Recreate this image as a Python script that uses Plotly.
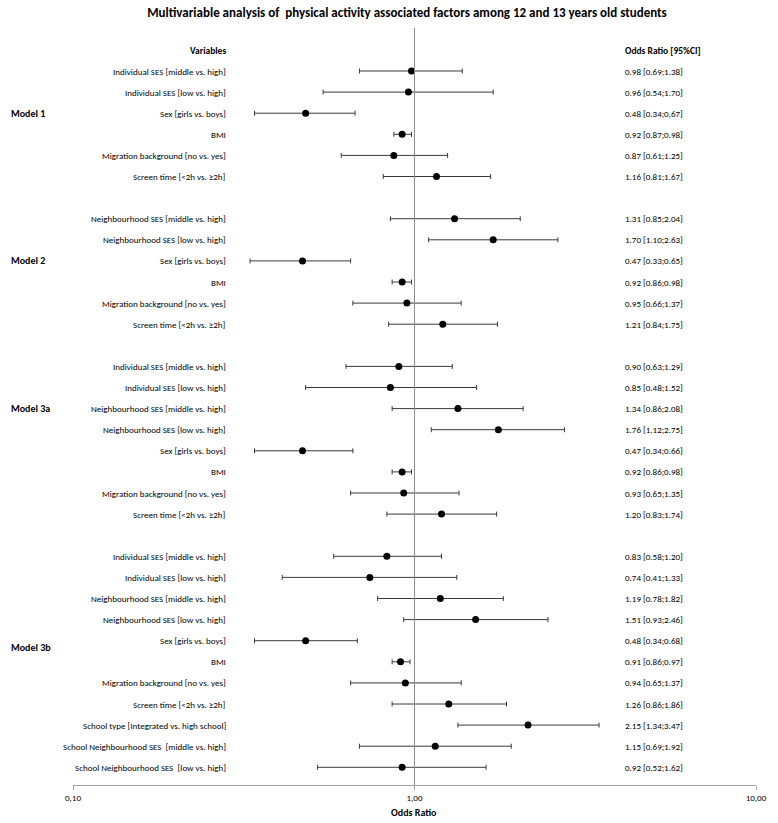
import plotly.graph_objects as go

FONT = "Carlito, Calibri, Lato, sans-serif"

title_text = "Multivariable analysis of  physical activity associated factors among 12 and 13 years old students"

model_names = ["Model 1", "Model 2", "Model 3a", "Model 3b"]

model1_vars = ["Individual SES [middle vs. high]", "Individual SES [low vs. high]",
               "Sex [girls vs. boys]", "BMI", "Migration background [no vs. yes]",
               "Screen time [<2h vs. \u22652h]"]
model1_or = [0.98, 0.96, 0.48, 0.92, 0.87, 1.16]
model1_lo = [0.69, 0.54, 0.34, 0.87, 0.61, 0.81]
model1_hi = [1.38, 1.70, 0.67, 0.98, 1.25, 1.67]
model1_txt = ["0.98 [0.69;1.38]", "0.96 [0.54;1.70]", "0.48 [0.34;0,67]",
              "0.92 [0.87;0.98]", "0.87 [0.61;1.25]", "1.16 [0.81;1.67]"]

model2_vars = ["Neighbourhood SES [middle vs. high]", "Neighbourhood SES [low vs. high]",
               "Sex [girls vs. boys]", "BMI", "Migration background [no vs. yes]",
               "Screen time [<2h vs. \u22652h]"]
model2_or = [1.31, 1.70, 0.47, 0.92, 0.95, 1.21]
model2_lo = [0.85, 1.10, 0.33, 0.86, 0.66, 0.84]
model2_hi = [2.04, 2.63, 0.65, 0.98, 1.37, 1.75]
model2_txt = ["1.31 [0.85;2.04]", "1.70 [1.10;2.63]", "0.47 [0.33;0.65]",
              "0.92 [0.86;0.98]", "0.95 [0.66;1.37]", "1.21 [0.84;1.75]"]

model3a_vars = ["Individual SES [middle vs. high]", "Individual SES [low vs. high]",
                "Neighbourhood SES [middle vs. high]", "Neighbourhood SES [low vs. high]",
                "Sex [girls vs. boys]", "BMI", "Migration background [no vs. yes]",
                "Screen time [<2h vs. \u22652h]"]
model3a_or = [0.90, 0.85, 1.34, 1.76, 0.47, 0.92, 0.93, 1.20]
model3a_lo = [0.63, 0.48, 0.86, 1.12, 0.34, 0.86, 0.65, 0.83]
model3a_hi = [1.29, 1.52, 2.08, 2.75, 0.66, 0.98, 1.35, 1.74]
model3a_txt = ["0.90 [0.63;1.29]", "0.85 [0.48;1.52]", "1.34 [0.86;2.08]",
               "1.76 [1.12;2.75]", "0.47 [0.34;0.66]", "0.92 [0.86;0.98]",
               "0.93 [0.65;1.35]", "1.20 [0.83;1.74]"]

model3b_vars = ["Individual SES [middle vs. high]", "Individual SES [low vs. high]",
                "Neighbourhood SES [middle vs. high]", "Neighbourhood SES [low vs. high]",
                "Sex [girls vs. boys]", "BMI", "Migration background [no vs. yes]",
                "Screen time [<2h vs. \u22652h]", "School type [Integrated vs. high school]",
                "School Neighbourhood SES  [middle vs. high]",
                "School Neighbourhood SES  [low vs. high]"]
model3b_or = [0.83, 0.74, 1.19, 1.51, 0.48, 0.91, 0.94, 1.26, 2.15, 1.15, 0.92]
model3b_lo = [0.58, 0.41, 0.78, 0.93, 0.34, 0.86, 0.65, 0.86, 1.34, 0.69, 0.52]
model3b_hi = [1.20, 1.33, 1.82, 2.46, 0.68, 0.97, 1.37, 1.86, 3.47, 1.92, 1.62]
model3b_txt = ["0.83 [0.58;1.20]", "0.74 [0.41;1.33]", "1.19 [0.78;1.82]",
               "1.51 [0.93;2.46]", "0.48 [0.34;0.68]", "0.91 [0.86;0.97]",
               "0.94 [0.65;1.37]", "1.26 [0.86;1.86]", "2.15 [1.34;3.47]",
               "1.15 [0.69;1.92]", "0.92 [0.52;1.62]"]

tick_vals = [0.1, 1, 10]
tick_text = ["0,10", "1,00", "10,00"]

groups = [
    (model1_vars, model1_or, model1_lo, model1_hi, model1_txt),
    (model2_vars, model2_or, model2_lo, model2_hi, model2_txt),
    (model3a_vars, model3a_or, model3a_lo, model3a_hi, model3a_txt),
    (model3b_vars, model3b_or, model3b_lo, model3b_hi, model3b_txt),
]
model_label_offset = [2, 2, 2, 4.3]

# Build rows (blank row between models)
rows_y, rows_var, rows_or, rows_lo, rows_hi, rows_txt = [], [], [], [], [], []
model_label_y = []
pos = 0
for gi, (vs, ors, los, his, txts) in enumerate(groups):
    start = pos
    for v, o, lo, hi, t in zip(vs, ors, los, his, txts):
        rows_y.append(pos)
        rows_var.append(v)
        rows_or.append(o)
        rows_lo.append(lo)
        rows_hi.append(hi)
        rows_txt.append(t)
        pos += 1
    model_label_y.append(start + model_label_offset[gi])
    pos += 1  # blank spacer row

err_plus = [h - o for h, o in zip(rows_hi, rows_or)]
err_minus = [o - l for o, l in zip(rows_or, rows_lo)]

fig = go.Figure()
fig.add_trace(go.Scatter(
    x=rows_or, y=rows_y, mode="markers",
    marker=dict(color="black", size=7),
    error_x=dict(type="data", symmetric=False, array=err_plus, arrayminus=err_minus,
                 color="#3a3a3a", thickness=1, width=2.5),
    showlegend=False, hoverinfo="x+y",
))

# plot geometry in pixels
L, R, T, B = 73, 11, 28, 38
W, H = 778, 823
pw = W - L - R
ph = H - T - B

def px_to_paper_x(px):
    return (px - L) / pw

annotations = []
lab_font = dict(family=FONT, size=9, color="black")
for y, v, t in zip(rows_y, rows_var, rows_txt):
    annotations.append(dict(x=px_to_paper_x(230), xref="paper", y=y, yref="y",
                            text=v, showarrow=False, xanchor="right", yanchor="middle",
                            font=lab_font))
    annotations.append(dict(x=px_to_paper_x(632), xref="paper", y=y, yref="y",
                            text=t, showarrow=False, xanchor="left", yanchor="middle",
                            font=lab_font))

hdr_font = dict(family=FONT, size=9.5, color="black")
annotations.append(dict(x=px_to_paper_x(230), xref="paper", y=-0.95, yref="y",
                        text="<b>Variables</b>", showarrow=False, xanchor="right",
                        yanchor="middle", font=hdr_font))
annotations.append(dict(x=px_to_paper_x(632), xref="paper", y=-0.95, yref="y",
                        text="<b>Odds Ratio [95%CI]</b>", showarrow=False, xanchor="left",
                        yanchor="middle", font=hdr_font))

for name, ly in zip(model_names, model_label_y):
    annotations.append(dict(x=px_to_paper_x(8), xref="paper", y=ly, yref="y",
                            text="<b>" + name + "</b>", showarrow=False, xanchor="left",
                            yanchor="middle", font=dict(family=FONT, size=10, color="black")))

annotations.append(dict(x=px_to_paper_x(419), xref="paper", y=-(812 - (H - B)) / ph,
                        yref="paper", text="<b>Odds Ratio</b>", showarrow=False,
                        xanchor="center", yanchor="middle",
                        font=dict(family=FONT, size=10, color="black")))

row_px0 = 71.0
row_step = 21.1
y_top = (T - row_px0) / row_step
y_bot = ((H - B) - row_px0) / row_step

fig.update_layout(
    width=W, height=H,
    margin=dict(l=L, r=R, t=T, b=B, pad=0),
    paper_bgcolor="white", plot_bgcolor="white",
    title=dict(text="<b>" + title_text + "</b>", x=407 / W, xref="container", xanchor="center",
               y=1 - 12 / H, yref="container", yanchor="middle",
               font=dict(family=FONT, size=13, color="black")),
    xaxis=dict(type="log", range=[-1, 1], tickvals=tick_vals, ticktext=tick_text,
               showgrid=False, zeroline=False, showline=True, linecolor="#a6a6a6",
               linewidth=1, ticks="outside", ticklen=4, tickcolor="#a6a6a6",
               tickfont=dict(family=FONT, size=9, color="black")),
    yaxis=dict(range=[y_bot, y_top], showgrid=False, zeroline=False, showline=False,
               showticklabels=False, ticks=""),
    shapes=[dict(type="line", xref="x", yref="paper", x0=1, x1=1, y0=0, y1=1,
                 line=dict(color="#8c8c8c", width=1))],
    annotations=annotations,
)

fig.write_html("out.html", config={"displayModeBar": False},
               post_script="document.body.style.margin='0';document.body.style.overflow='hidden';")
